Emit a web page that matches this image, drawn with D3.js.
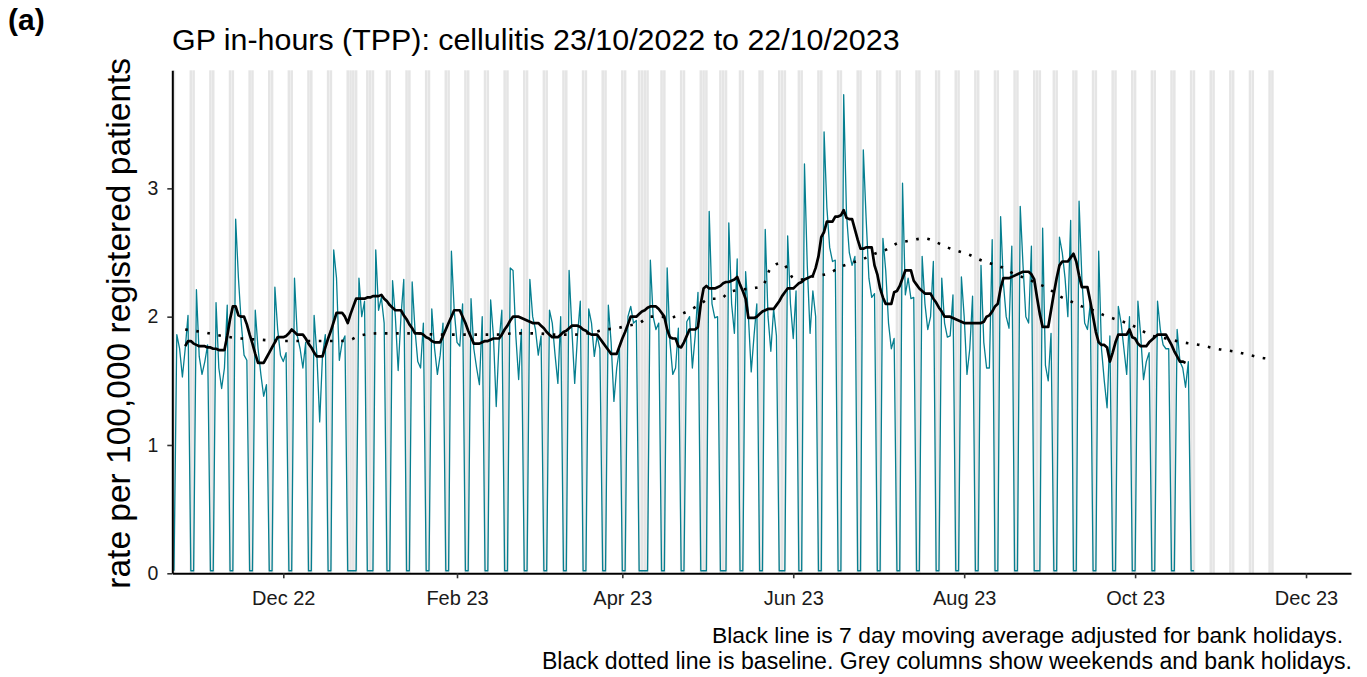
<!DOCTYPE html>
<html><head><meta charset="utf-8">
<script src="https://cdn.jsdelivr.net/npm/d3@7"></script>
<style>
body{margin:0;background:#fff}
svg{display:block}
text{font-family:"Liberation Sans", Arial, Helvetica, sans-serif}
</style>
</head><body>
<svg id="chart" width="1367" height="677"></svg>
<script>
// ---------------- DATA ----------------
const startDate = "2022-10-23";          // first day of the series (a Sunday)
// Daily rate per 100,000 registered patients, one row per week: Sun, Mon, Tue, Wed, Thu, Fri, Sat
const rate = [
  [0.02,1.86,1.75,1.53,1.75,2.01,0.02],
  [0.02,2.21,1.69,1.55,1.65,1.78,0.02],
  [0.02,2.11,1.60,1.44,1.60,2.09,0.02],
  [0.02,2.76,2.30,1.95,1.70,1.66,0.02],
  [0.02,2.05,1.75,1.55,1.38,1.47,0.02],
  [0.02,2.23,1.90,1.70,1.65,1.72,0.02],
  [0.02,2.30,1.85,1.75,1.60,1.80,0.02],
  [0.02,2.01,1.70,1.18,1.70,1.86,0.02],
  [0.02,2.52,2.30,1.66,1.80,1.85,0.02],
  [0.02,0.02,0.02,2.30,2.00,2.12,0.02],
  [0.02,0.02,2.52,2.05,2.15,1.95,0.02],
  [0.02,2.28,2.00,1.58,2.00,2.29,0.02],
  [0.02,2.27,1.90,1.65,1.60,1.95,0.02],
  [0.02,2.06,1.75,1.55,1.70,1.95,0.02],
  [0.02,2.51,2.05,1.80,1.77,2.10,0.02],
  [0.02,2.14,1.75,1.60,1.47,2.00,0.02],
  [0.02,2.13,1.85,1.30,1.80,2.05,0.02],
  [0.02,2.38,2.36,1.85,1.51,1.90,0.02],
  [0.02,2.29,2.00,1.90,1.70,1.85,0.02],
  [0.02,2.05,1.95,1.70,1.48,2.00,0.02],
  [0.02,2.36,1.90,1.48,1.85,2.12,0.02],
  [0.02,2.06,1.95,1.69,1.85,1.75,0.02],
  [0.02,2.09,1.80,1.34,1.60,1.75,0.02],
  [0.02,2.00,2.08,1.95,1.97,0.02,0.02],
  [0.02,0.02,2.44,2.00,1.90,1.95,0.02],
  [0.02,2.38,1.80,1.55,1.60,1.91,0.02],
  [0.02,1.96,2.00,1.60,1.85,2.19,0.02],
  [0.02,0.02,2.82,2.10,1.99,2.00,0.02],
  [0.02,0.02,2.73,2.10,1.87,2.45,0.02],
  [0.02,2.35,2.00,1.57,1.85,2.10,0.02],
  [0.02,2.68,2.00,1.73,2.06,1.85,0.02],
  [0.02,0.02,2.63,2.10,1.83,2.20,0.02],
  [0.02,3.19,2.40,1.87,2.20,2.00,0.02],
  [0.02,3.44,2.85,2.54,2.43,2.44,0.02],
  [0.02,3.73,2.80,2.50,2.40,2.47,0.02],
  [0.02,3.30,2.77,2.30,2.15,2.18,0.02],
  [0.02,2.61,2.36,1.95,1.75,1.83,0.02],
  [0.02,3.04,2.17,2.30,2.14,2.15,0.02],
  [0.02,2.47,2.10,1.90,2.00,2.43,0.02],
  [0.02,2.30,1.95,1.84,1.85,2.17,0.02],
  [0.02,2.31,2.00,1.55,1.75,2.16,0.02],
  [0.02,2.40,1.80,1.60,1.60,2.60,0.02],
  [0.02,2.78,2.26,2.00,1.91,2.55,0.02],
  [0.02,2.86,2.40,2.00,1.95,2.55,0.02],
  [0.02,0.02,2.69,1.62,1.50,1.87,0.02],
  [0.02,2.62,2.50,2.30,2.00,2.75,0.02],
  [0.02,2.90,2.30,1.95,1.90,2.10,0.02],
  [0.02,2.51,1.75,1.50,1.29,1.85,0.02],
  [0.02,2.08,1.95,1.75,1.55,2.00,0.02],
  [0.02,2.12,1.85,1.51,1.65,1.72,0.02],
  [0.02,2.12,1.90,1.78,1.75,1.75,0.02],
  [0.02,1.90,1.65,1.60,1.45,1.65,0.02],
  [0.02]
];
// 7 day moving average (adjusted for bank holidays), same weekly layout; null = not shown
const movingAvg = [
  [null,null,null,null,1.77,1.81,1.81],
  [1.79,1.78,1.77,1.77,1.77,1.76,1.76],
  [1.75,1.75,1.74,1.74,1.74,1.85,1.98],
  [2.08,2.08,2.01,2.00,2.00,1.94,1.86],
  [1.79,1.71,1.64,1.64,1.64,1.68,1.72],
  [1.76,1.80,1.84,1.84,1.84,1.85,1.87],
  [1.90,1.88,1.86,1.86,1.86,1.83,1.79],
  [1.76,1.72,1.69,1.69,1.69,1.76,1.83],
  [1.89,1.96,2.03,2.03,2.03,2.00,1.95],
  [2.02,2.08,2.14,2.14,2.14,2.14,2.15],
  [2.15,2.16,2.16,2.16,2.17,2.14,2.12],
  [2.09,2.07,2.05,2.05,2.05,2.01,1.98],
  [1.94,1.91,1.87,1.87,1.87,1.86,1.84],
  [1.83,1.81,1.80,1.80,1.80,1.85,1.90],
  [1.95,2.00,2.05,2.05,2.05,2.00,1.95],
  [1.89,1.84,1.79,1.79,1.79,1.80,1.81],
  [1.81,1.82,1.83,1.83,1.83,1.86,1.90],
  [1.93,1.97,2.00,2.00,2.00,1.99,1.98],
  [1.97,1.96,1.95,1.95,1.95,1.93,1.91],
  [1.88,1.86,1.84,1.84,1.84,1.86,1.88],
  [1.89,1.91,1.93,1.93,1.93,1.92,1.90],
  [1.89,1.87,1.86,1.86,1.86,1.83,1.80],
  [1.77,1.74,1.71,1.71,1.71,1.77,1.83],
  [1.88,1.94,2.00,2.00,2.00,2.02,2.04],
  [2.05,2.07,2.08,2.08,2.08,2.06,2.03],
  [2.00,1.90,1.84,1.83,1.83,1.77,1.76],
  [1.80,1.85,1.90,1.90,1.90,1.92,2.10],
  [2.22,2.24,2.22,2.22,2.22,2.23,2.24],
  [2.26,2.27,2.27,2.28,2.29,2.31,2.25],
  [2.20,2.14,1.99,1.99,1.99,2.00,2.02],
  [2.04,2.05,2.06,2.06,2.06,2.09,2.12],
  [2.16,2.19,2.22,2.22,2.22,2.24,2.26],
  [2.27,2.29,2.30,2.31,2.32,2.38,2.47],
  [2.62,2.66,2.74,2.74,2.74,2.78,2.78],
  [2.79,2.83,2.77,2.76,2.76,2.68,2.60],
  [2.53,2.53,2.54,2.54,2.54,2.40,2.33],
  [2.22,2.15,2.10,2.10,2.10,2.19,2.20],
  [2.24,2.30,2.36,2.36,2.36,2.28,2.25],
  [2.22,2.20,2.18,2.18,2.18,2.14,2.11],
  [2.07,2.04,2.00,2.00,2.00,1.99,1.98],
  [1.97,1.96,1.95,1.95,1.95,1.95,1.95],
  [1.95,1.95,1.96,2.00,2.01,2.04,2.08],
  [2.10,2.22,2.30,2.30,2.30,2.31,2.32],
  [2.33,2.34,2.35,2.35,2.35,2.33,2.29],
  [2.15,2.02,1.92,1.92,1.92,2.05,2.18],
  [2.30,2.40,2.43,2.43,2.43,2.46,2.49],
  [2.43,2.32,2.23,2.23,2.23,2.12,2.00],
  [1.88,1.80,1.78,1.78,1.76,1.65,1.72],
  [1.80,1.86,1.86,1.86,1.86,1.90,1.84],
  [1.83,1.79,1.77,1.77,1.77,1.80,1.82],
  [1.84,1.86,1.86,1.86,1.86,1.82,1.78],
  [1.73,1.69,1.65,1.65,1.64,null,null],
  [null]
];
// Baseline (dotted): day offset from startDate and value
const baselineDay = [4,10,17,24,31,38,45,52,59,63,66,73,80,87,94,101,108,115,122,129,136,143,150,154,158,162,166,170,174,176,180,184,188,191,195,198,202,206,210,213,217,219,221,224,227,230,234,238,242,246,250,254,258,262,268,272,276,280,284,288,292,296,300,304,308,312,316,320,324,328,332,336,340,344,348,354,360,366,372,378,384,388,392];
const baselineValue = [1.90,1.88,1.85,1.83,1.82,1.81,1.81,1.81,1.81,1.82,1.85,1.87,1.87,1.87,1.86,1.86,1.86,1.86,1.87,1.87,1.86,1.86,1.88,1.90,1.91,1.93,1.95,2.00,2.00,1.99,2.01,2.05,2.10,2.14,2.14,2.19,2.21,2.22,2.24,2.38,2.42,2.37,2.30,2.29,2.31,2.32,2.34,2.39,2.42,2.45,2.49,2.52,2.57,2.59,2.61,2.58,2.54,2.51,2.48,2.44,2.41,2.38,2.33,2.30,2.26,2.22,2.16,2.12,2.08,2.05,2.01,1.98,1.95,1.91,1.86,1.83,1.80,1.78,1.75,1.73,1.70,1.68,1.67];
const bankHolidays = ["2022-12-26","2022-12-27","2023-01-02","2023-04-07","2023-04-10","2023-05-01","2023-05-08","2023-05-29","2023-08-28"];
const shadeEnd = "2023-11-19";
const xTickDates = ["2022-12-01","2023-02-01","2023-04-01","2023-06-01","2023-08-01","2023-10-01","2023-12-01"];
const xTickLabels = ["Dec 22","Feb 23","Apr 23","Jun 23","Aug 23","Oct 23","Dec 23"];
const yTicks = [0,1,2,3];
const panelLabel = "(a)";
const titleText = "GP in-hours (TPP): cellulitis 23/10/2022 to 22/10/2023";
const yLabel = "rate per 100,000 registered patients";
const captionLines = ["Black line is 7 day moving average adjusted for bank holidays.",
                      "Black dotted line is baseline. Grey columns show weekends and bank holidays."];

// ---------------- CHART ----------------
(function () {
const DAY = 864e5;
const t0 = Date.parse(startDate + "T00:00:00Z");
const dayDate = d => new Date(t0 + d * DAY);
const parse = s => new Date(Date.parse(s + "T00:00:00Z"));

const svg = d3.select("#chart");
const pL = 172.3, pR = 1351, pT = 70.3, pB = 573.3;

const x = d3.scaleUtc().domain([dayDate(-0.607), dayDate(420.05)]).range([pL, pR]);
const y = d3.scaleLinear().domain([0, 3.92]).range([pB, pT]);

const rateSeries = rate.flat().map((v, i) => ({date: dayDate(i), v}));
const maSeries = movingAvg.flat().map((v, i) => ({date: dayDate(i), v}));
const baseSeries = baselineDay.map((d, i) => ({date: dayDate(d), v: baselineValue[i]}));

// grey columns: weekends and bank holidays
const bh = new Set(bankHolidays);
const lastShade = Math.round((parse(shadeEnd) - t0) / DAY);
const fmt = d3.utcFormat("%Y-%m-%d");
const shadeDays = d3.range(0, lastShade + 1).map(dayDate).filter(dt => {
  const wd = dt.getUTCDay();
  return wd === 0 || wd === 6 || bh.has(fmt(dt));
});
const halfW = 0.45 * DAY;
svg.append("g").selectAll("rect").data(shadeDays).join("rect")
  .attr("x", d => x(new Date(+d - halfW)))
  .attr("width", d => x(new Date(+d + halfW)) - x(new Date(+d - halfW)))
  .attr("y", pT).attr("height", pB - pT)
  .attr("fill", "#e5e5e5");

// daily rate (teal)
svg.append("path").datum(rateSeries)
  .attr("fill", "none").attr("stroke", "#067f90").attr("stroke-width", 1.3)
  .attr("stroke-linejoin", "round")
  .attr("d", d3.line().x(d => x(d.date)).y(d => y(d.v)));

// baseline (dotted)
svg.append("path").datum(baseSeries)
  .attr("fill", "none").attr("stroke", "#000").attr("stroke-width", 2.6)
  .attr("stroke-dasharray", "2.6 8.6")
  .attr("d", d3.line().curve(d3.curveMonotoneX).x(d => x(d.date)).y(d => y(d.v)));

// moving average (black)
svg.append("path").datum(maSeries)
  .attr("fill", "none").attr("stroke", "#000").attr("stroke-width", 2.7)
  .attr("stroke-linejoin", "round")
  .attr("d", d3.line().defined(d => d.v != null).x(d => x(d.date)).y(d => y(d.v)));

// axes
const xAxis = d3.axisBottom(x).tickValues(xTickDates.map(parse))
  .tickFormat((d, i) => xTickLabels[i]).tickSize(5).tickSizeOuter(0).tickPadding(13);
const gx = svg.append("g").attr("transform", `translate(0,${pB})`).call(xAxis);
gx.select(".domain").attr("stroke", "#000").attr("stroke-width", 2);
gx.selectAll(".tick line").attr("stroke", "#333").attr("stroke-width", 1.6);
gx.selectAll(".tick text").attr("fill", "#1a1a1a").style("font-size", "20px")
  .style("font-family", '"Liberation Sans", Arial, sans-serif');

const yAxis = d3.axisLeft(y).tickValues(yTicks).tickFormat(d3.format("d"))
  .tickSize(5).tickSizeOuter(0).tickPadding(9);
const gy = svg.append("g").attr("transform", `translate(${pL},0)`).call(yAxis);
gy.select(".domain").attr("stroke", "#000").attr("stroke-width", 2);
gy.selectAll(".tick line").attr("stroke", "#333").attr("stroke-width", 1.6);
gy.selectAll(".tick text").attr("fill", "#1a1a1a").style("font-size", "19.5px")
  .style("font-family", '"Liberation Sans", Arial, sans-serif');

// texts
svg.append("text").attr("x", 8).attr("y", 30).attr("font-weight", "bold")
  .attr("font-size", 30).attr("fill", "#000").text(panelLabel);
svg.append("text").attr("x", 172).attr("y", 50).attr("font-size", 30.4)
  .attr("fill", "#000").text(titleText);
svg.append("text").attr("transform", "rotate(-90)")
  .attr("x", -(pT + pB) / 2 - 1.5).attr("y", 130)
  .attr("text-anchor", "middle").attr("font-size", 33.5).attr("fill", "#000").text(yLabel);
svg.append("text").attr("x", 1343).attr("y", 643).attr("text-anchor", "end")
  .attr("font-size", 22.9).attr("fill", "#000").text(captionLines[0]);
svg.append("text").attr("x", 1352).attr("y", 669).attr("text-anchor", "end")
  .attr("font-size", 23.1).attr("fill", "#000").text(captionLines[1]);
})();
</script>
</body></html>
